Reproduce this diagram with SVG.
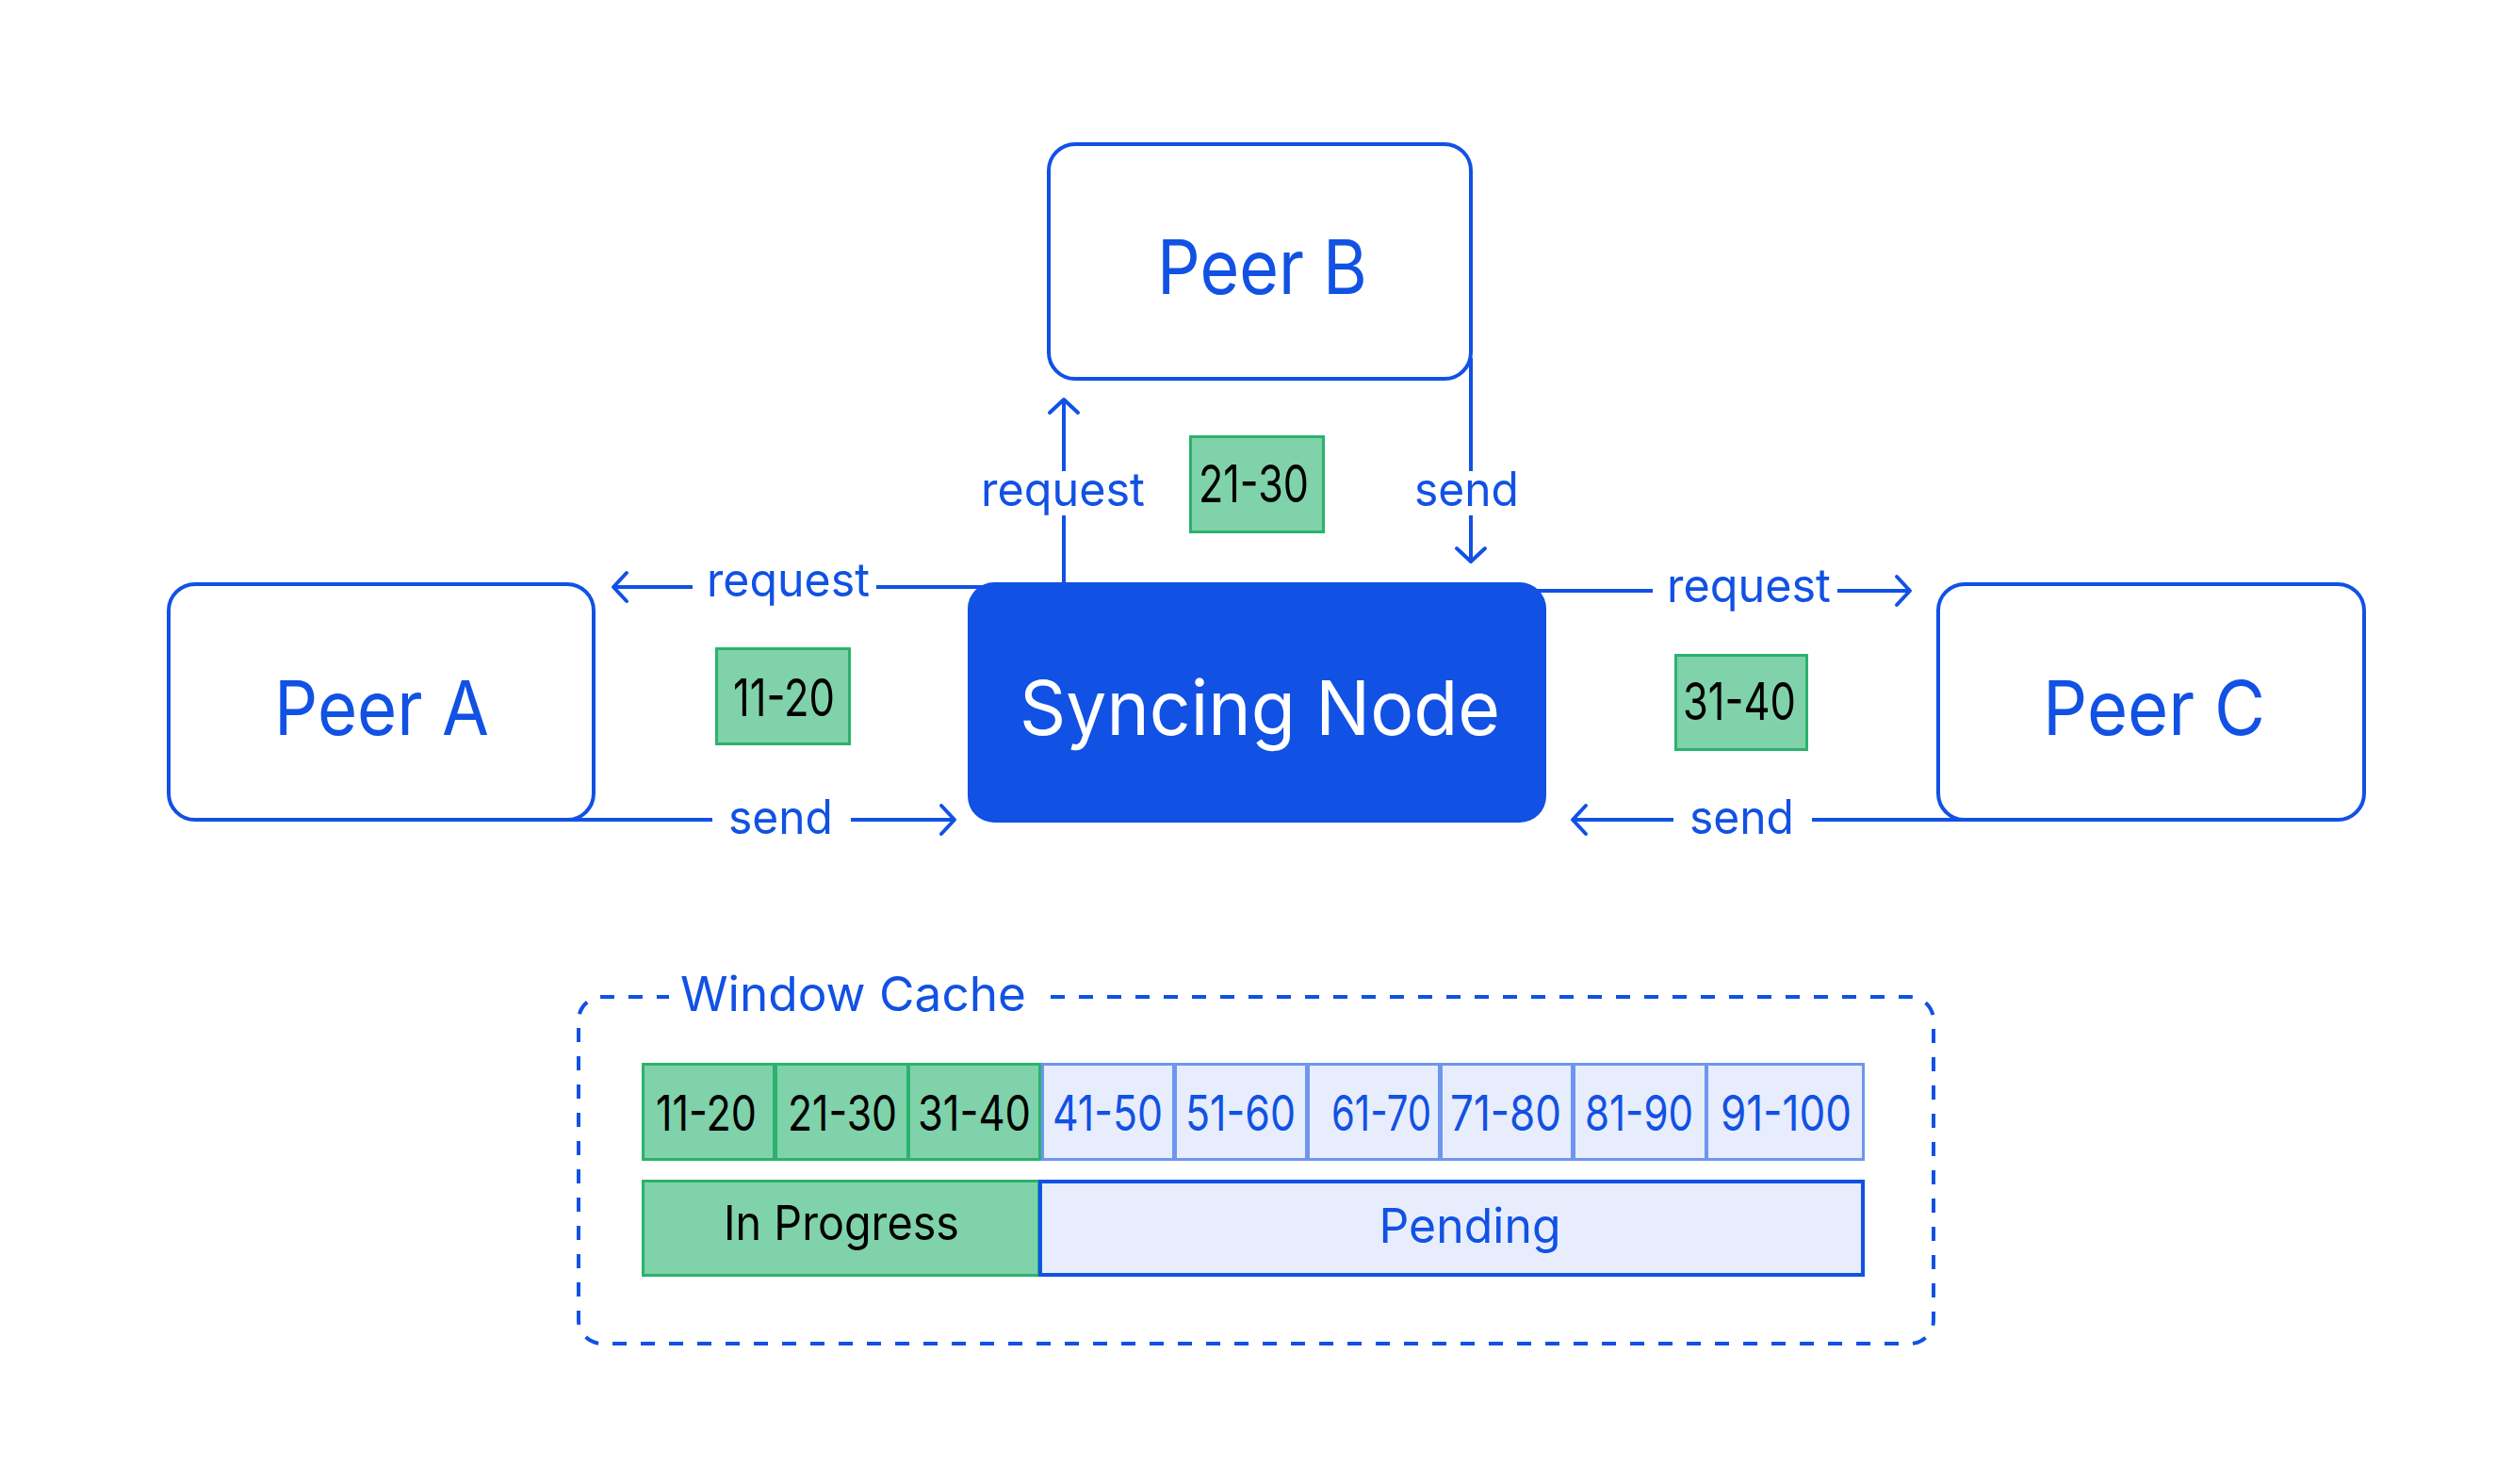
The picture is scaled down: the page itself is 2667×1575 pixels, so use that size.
<svg xmlns="http://www.w3.org/2000/svg" width="2667" height="1575" viewBox="0 0 2667 1575">
  <style>
    text { font-family: Inter, "Noto Sans", "Liberation Sans", sans-serif; }
    .peer { fill: #FFFFFF; stroke: #1151E4; stroke-width: 4; }
    .peerText { fill: #1151E4; font-size: 80px; text-anchor: middle; }
    .nodeText { fill: #FFFFFF; font-size: 80px; text-anchor: middle; }
    .conn { fill: none; stroke: #1151E4; stroke-width: 4; }
    .lbl { fill: #1151E4; font-size: 50px; text-anchor: middle; }
    .chunk { fill: #80D2AA; stroke: #2BB26E; stroke-width: 3; }
    .chunkText { fill: #000000; font-size: 55px; text-anchor: middle; }
    .cellG { fill: #80D2AA; stroke: #2BB26E; stroke-width: 3; }
    .cellB { fill: #E7EDFC; stroke: #6E96EE; stroke-width: 3; }
    .cellTextG { fill: #000000; font-size: 52px; text-anchor: middle; }
    .cellTextB { fill: #1151E4; font-size: 52px; text-anchor: middle; }
    .dash { fill: none; stroke: #1151E4; stroke-width: 4; stroke-dasharray: 15 15; }
  </style>
  <defs>
    <marker id="arrow" markerUnits="userSpaceOnUse" markerWidth="40" markerHeight="40" viewBox="-20 -20 40 40" refX="0" refY="0" orient="auto">
      <path d="M-14,-15 L0,0 L-14,15" fill="none" stroke="#1151E4" stroke-width="4" stroke-linecap="round" stroke-linejoin="round"/>
    </marker>
  </defs>
  <rect x="0" y="0" width="2667" height="1575" fill="#FFFFFF"/>

  <g id="connectors">
    <!-- Syncing Node -> Peer A : request -->
    <path class="conn" d="M1045,623 H930"/>
    <path class="conn" d="M735,623 H651" marker-end="url(#arrow)"/>
    <text class="lbl" x="836.5" y="633" textLength="173" lengthAdjust="spacingAndGlyphs">request</text>
    <!-- Peer A -> Syncing Node : send -->
    <path class="conn" d="M597,870 H756"/>
    <path class="conn" d="M903,870 H1013" marker-end="url(#arrow)"/>
    <text class="lbl" x="828.5" y="885" textLength="111" lengthAdjust="spacingAndGlyphs">send</text>
    <!-- Syncing Node -> Peer B : request -->
    <path class="conn" d="M1129,620 V547"/>
    <path class="conn" d="M1129,500 V424" marker-end="url(#arrow)"/>
    <text class="lbl" x="1128" y="537" textLength="174" lengthAdjust="spacingAndGlyphs">request</text>
    <!-- Peer B -> Syncing Node : send -->
    <path class="conn" d="M1561,380 V500"/>
    <path class="conn" d="M1561,547 V596" marker-end="url(#arrow)"/>
    <text class="lbl" x="1556.5" y="537" textLength="111" lengthAdjust="spacingAndGlyphs">send</text>
    <!-- Syncing Node -> Peer C : request -->
    <path class="conn" d="M1625,627 H1754"/>
    <path class="conn" d="M1950,627 H2027" marker-end="url(#arrow)"/>
    <text class="lbl" x="1856" y="639" textLength="174" lengthAdjust="spacingAndGlyphs">request</text>
    <!-- Peer C -> Syncing Node : send -->
    <path class="conn" d="M2085,870 H1923"/>
    <path class="conn" d="M1776,870 H1669" marker-end="url(#arrow)"/>
    <text class="lbl" x="1848.5" y="885" textLength="111" lengthAdjust="spacingAndGlyphs">send</text>
  </g>

  <g id="peer-a">
    <rect class="peer" x="179" y="620" width="451" height="250" rx="28" ry="28"/>
    <text class="peerText" x="405" y="780" textLength="228" lengthAdjust="spacingAndGlyphs">Peer A</text>
  </g>

  <g id="peer-b">
    <rect class="peer" x="1113" y="153" width="448" height="249" rx="28" ry="28"/>
    <text class="peerText" x="1339.5" y="312" textLength="223" lengthAdjust="spacingAndGlyphs">Peer B</text>
  </g>

  <g id="peer-c">
    <rect class="peer" x="2057" y="620" width="452" height="250" rx="28" ry="28"/>
    <text class="peerText" x="2286" y="780" textLength="236" lengthAdjust="spacingAndGlyphs">Peer C</text>
  </g>

  <g id="syncing-node">
    <rect x="1027" y="618" width="614" height="255" rx="28" ry="28" fill="#1151E4"/>
    <text class="nodeText" x="1337" y="780" textLength="510" lengthAdjust="spacingAndGlyphs">Syncing Node</text>
  </g>

  <g id="chunk-11-20">
    <rect class="chunk" x="760.5" y="688.5" width="141" height="101"/>
    <text class="chunkText" x="832" y="760" textLength="108" lengthAdjust="spacingAndGlyphs">11-20</text>
  </g>
  <g id="chunk-21-30">
    <rect class="chunk" x="1263.5" y="463.5" width="141" height="101"/>
    <text class="chunkText" x="1330.5" y="533" textLength="117" lengthAdjust="spacingAndGlyphs">21-30</text>
  </g>
  <g id="chunk-31-40">
    <rect class="chunk" x="1778.5" y="695.5" width="139" height="100"/>
    <text class="chunkText" x="1846" y="764" textLength="120" lengthAdjust="spacingAndGlyphs">31-40</text>
  </g>

  <g id="window-cache">
    <path class="dash" d="M1115,1058 H2027 A25,25 0 0 1 2052,1083 V1401 A25,25 0 0 1 2027,1426 H639 A25,25 0 0 1 614,1401 V1083 A25,25 0 0 1 639,1058 H710"/>
    <text x="905.5" y="1073" fill="#1151E4" font-size="51" text-anchor="middle" textLength="367" lengthAdjust="spacingAndGlyphs">Window Cache</text>

    <g id="cells">
      <rect class="cellB" x="1106.5" y="1129.5" width="139" height="101"/>
      <rect class="cellB" x="1247.5" y="1129.5" width="139" height="101"/>
      <rect class="cellB" x="1388.5" y="1129.5" width="139" height="101"/>
      <rect class="cellB" x="1529.5" y="1129.5" width="139" height="101"/>
      <rect class="cellB" x="1670.5" y="1129.5" width="140" height="101"/>
      <rect class="cellB" x="1811.5" y="1129.5" width="166" height="101"/>
      <rect class="cellG" x="682.5" y="1129.5" width="139" height="101"/>
      <rect class="cellG" x="823.5" y="1129.5" width="140" height="101"/>
      <rect class="cellG" x="964.5" y="1129.5" width="139" height="101"/>

      <text class="cellTextG" x="749.5" y="1200" textLength="107" lengthAdjust="spacingAndGlyphs">11-20</text>
      <text class="cellTextG" x="894" y="1200" textLength="116" lengthAdjust="spacingAndGlyphs">21-30</text>
      <text class="cellTextG" x="1034" y="1200" textLength="120" lengthAdjust="spacingAndGlyphs">31-40</text>
      <text class="cellTextB" x="1175.5" y="1200" textLength="117" lengthAdjust="spacingAndGlyphs">41-50</text>
      <text class="cellTextB" x="1316.5" y="1200" textLength="117" lengthAdjust="spacingAndGlyphs">51-60</text>
      <text class="cellTextB" x="1466" y="1200" textLength="106" lengthAdjust="spacingAndGlyphs">61-70</text>
      <text class="cellTextB" x="1598" y="1200" textLength="118" lengthAdjust="spacingAndGlyphs">71-80</text>
      <text class="cellTextB" x="1739.5" y="1200" textLength="115" lengthAdjust="spacingAndGlyphs">81-90</text>
      <text class="cellTextB" x="1895.5" y="1200" textLength="139" lengthAdjust="spacingAndGlyphs">91-100</text>
    </g>

    <g id="in-progress">
      <rect x="682.5" y="1253.5" width="420" height="100" fill="#80D2AA" stroke="#2BB26E" stroke-width="3"/>
      <text x="893" y="1316" fill="#000000" font-size="51" text-anchor="middle" textLength="250" lengthAdjust="spacingAndGlyphs">In Progress</text>
    </g>
    <g id="pending">
      <rect x="1104" y="1254" width="873" height="99" fill="#E7EDFC" stroke="#1151E4" stroke-width="4"/>
      <text x="1560" y="1319" fill="#1151E4" font-size="51" text-anchor="middle" textLength="193" lengthAdjust="spacingAndGlyphs">Pending</text>
    </g>
  </g>
</svg>
